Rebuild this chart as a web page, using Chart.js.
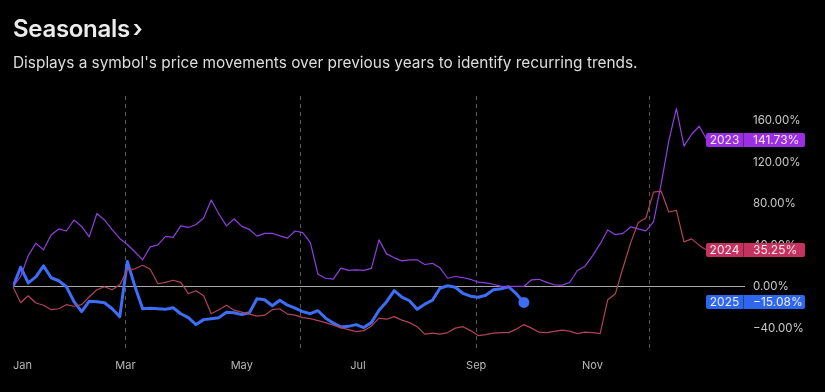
<!DOCTYPE html>
<html>
<head>
<meta charset="utf-8">
<script src="https://cdn.jsdelivr.net/npm/chart.js@4.4.0/dist/chart.umd.min.js"></script>
<style>
  html, body { margin: 0; padding: 0; background: #000; }
  body { width: 825px; height: 392px; position: relative; overflow: hidden; font-family: Inter, "Noto Sans", sans-serif; }
  #title { position: absolute; left: 13px; top: 14px; color: #ececec; font-size: 24px; font-weight: 600; letter-spacing: -0.3px; }
  #title span { font-weight: 600; margin-left: 3px; }
  #subtitle { position: absolute; left: 13px; top: 53px; color: #dedede; font-size: 15.4px; }
  #wrap { position: absolute; left: 0; top: 0; width: 825px; height: 392px; }
</style>
</head>
<body>
<div id="wrap"><canvas id="chart-canvas" width="825" height="392"></canvas></div>
<div id="title">Seasonals<span>›</span></div>
<div id="subtitle">Displays a symbol's price movements over previous years to identify recurring trends.</div>
<script>
// one sample every 4 days, day 0 = Jan 1
const STEP_DAYS = 4;

// last tick is an empty one at the axis end so 'inner' alignment only moves Jan
const monthLabels = ['Jan', 'Mar', 'May', 'Jul', 'Sep', 'Nov', ''];
const monthTickDays = [0, 59, 120, 181, 243, 304, 384];
const quarterLineDays = [59, 151, 243, 334];
const yTicks = [-40, 0, 40, 80, 120, 160];

const years = ['2023', '2024', '2025'];

const y2023 = [0, 9.9, 30.0, 42.0, 35.6, 50.0, 55.8, 53.8, 64.4, 58.2, 48.1, 70.7, 64.4, 55.2, 46.6, 40.8,
  33.5, 26.0, 38.5, 40.4, 48.6, 47.6, 58.7, 57.2, 60.1, 66.3, 83.7, 70.2, 58.7, 65.4, 58.2, 55.3,
  48.8, 51.5, 51.6, 49.1, 46.9, 53.8, 52.3, 42.6, 12.0, 8.2, 7.3, 17.9, 15.8, 16.3, 15.8, 17.8,
  45.2, 31.7, 27.9, 25.0, 26.0, 26.0, 21.5, 22.6, 18.3, 8.2, 9.9, 8.9, 7.2, 4.4, 3.8, 2.4,
  0.3, 0.3, 0.3, 0.3, 6.7, 7.2, 4.2, 1.9, 1.6, 4.1, 15.4, 19.7, 29.8, 41.3, 54.8, 50.2,
  51.5, 57.7, 55.9, 53.9, 62.5, 99.0, 140.4, 171.8, 135.6, 147.1, 154.8, 141.73];

const y2024 = [0, -15.4, -8.7, -15.7, -17.8, -22.1, -21.2, -17.3, -18.8, -17.3, -9.6, -2.9, 0, -2.9, 1.9, 16.3,
  17.3, 20.7, 16.8, 2.9, 4.3, 6.3, 4.3, -6.7, -3.8, -8.7, -26.0, -22.1, -17.8, -22.6, -24.5, -26.4,
  -28.4, -27.4, -22.1, -21.2, -26.4, -27.4, -29.8, -30.8, -32.7, -34.6, -37.0, -39.4, -41.3, -43.3, -42.3, -38.0,
  -30.3, -31.3, -28.8, -32.2, -34.6, -38.5, -45.7, -44.7, -45.7, -44.2, -39.9, -38.5, -42.3, -47.1, -46.2, -44.7,
  -44.2, -44.2, -40.9, -36.5, -39.9, -43.8, -44.2, -43.0, -41.8, -42.8, -45.2, -43.8, -44.2, -45.2, -12.5, -6.7,
  18.3, 42.3, 62.0, 66.3, 91.3, 92.3, 72.1, 73.6, 43.3, 46.2, 39.9, 35.25];

const y2025 = [0, 18.8, 3.8, 9.6, 20.2, 8.7, 5.8, 0, -14.4, -24.0, -13.9, -14.4, -15.4, -21.2, -28.8, 24.3,
  0, -21.2, -20.7, -21.2, -21.6, -20.2, -26.0, -29.8, -36.5, -31.7, -30.8, -29.8, -24.5, -25.0, -26.9, -25.0,
  -11.5, -12.5, -18.3, -13.0, -17.8, -20.7, -24.0, -26.0, -23.1, -30.3, -34.9, -38.9, -38.2, -36.5, -39.4, -34.6,
  -22.6, -14.4, -3.8, -10.1, -13.5, -21.6, -16.8, -13.0, -1.4, 1.0, -0.5, -6.3, -9.1, -10.1, -8.2, -2.9,
  -1.9, 0, -6.7, -15.08];

const lineColors = ['#8f3fe0', '#b0435c', '#3d6ef5'];
const badgeColors = ['#9a2ee3', '#c4325f', '#2f66ee'];
const badgeText = ['#f4e8ff', '#ffe8ee', '#e8eeff'];

const toPoints = values => values.map((v, i) => ({ x: i * STEP_DAYS, y: v }));

const fmtPct = v => (v < 0 ? '\u2212' : '') + Math.abs(v).toFixed(2) + '%';

const badges = {
	id: 'badges',
	afterDraw(chart) {
		const { ctx } = chart;
		const yScale = chart.scales.y;
		chart.data.datasets.forEach(ds => {
			const last = ds.data[ds.data.length - 1].y;
			const yc = Math.round(yScale.getPixelForValue(last));
			const h = 14;
			ctx.save();
			ctx.fillStyle = ds.badgeColor;
			ctx.beginPath();
			ctx.roundRect(706, yc - h / 2, 99, h, 2);
			ctx.fill();
			ctx.fillStyle = 'rgba(0,0,0,0.35)';
			ctx.fillRect(743, yc - h / 2, 1, h);
			ctx.fillStyle = ds.badgeText;
			ctx.font = '12px Inter, "Noto Sans", sans-serif';
			ctx.textBaseline = 'middle';
			ctx.textAlign = 'center';
			ctx.fillText(ds.label, 724.5, yc + 0.5);
			ctx.textAlign = 'left';
			ctx.fillText(fmtPct(last), 753, yc + 0.5);
			ctx.restore();
		});
	}
};

const datasets = [y2024, y2023, y2025].map((vals, j) => {
	const i = [1, 0, 2][j];
	const isCurrent = i === 2;
	return {
		label: years[i],
		data: toPoints(vals),
		borderColor: lineColors[i],
		backgroundColor: lineColors[i],
		badgeColor: badgeColors[i],
		badgeText: badgeText[i],
		borderWidth: isCurrent ? 3 : 1.2,
		tension: 0,
		pointRadius: ctx => (isCurrent && ctx.dataIndex === vals.length - 1 ? 4 : 0),
		pointHoverRadius: 0,
		borderJoinStyle: 'round'
	};
});

const ctx = document.querySelector('#chart-canvas').getContext('2d');
new Chart(ctx, {
	type: 'line',
	data: { datasets },
	plugins: [badges],
	options: {
		responsive: false,
		animation: false,
		events: [],
		layout: { padding: { left: 13, top: 96, right: 0, bottom: 0 } },
		plugins: { legend: { display: false }, tooltip: { enabled: false } },
		scales: {
			x: {
				type: 'linear',
				min: 0,
				max: 384,
				afterBuildTicks: scale => { scale.ticks = monthTickDays.map(v => ({ value: v })); },
				afterFit: scale => { scale.height = 42; scale.paddingLeft = 0; scale.paddingRight = 0; },
				ticks: {
					color: '#b8b8b8',
					font: { size: 11, family: 'Inter, "Noto Sans", sans-serif' },
					padding: 9,
					align: 'inner',
					maxRotation: 0,
					autoSkip: false,
					callback: (v, idx) => monthLabels[idx]
				},
				grid: { display: false, drawTicks: false },
				border: { display: false }
			},
			x2: {
				type: 'linear',
				position: 'bottom',
				min: 0,
				max: 384,
				afterBuildTicks: scale => { scale.ticks = quarterLineDays.map(v => ({ value: v })); },
				afterFit: scale => { scale.height = 0; },
				ticks: { display: false },
				grid: { color: '#5a5a5a', lineWidth: 1, drawTicks: false },
				border: { display: false, dash: [4, 4] }
			},
			y: {
				position: 'right',
				min: -61,
				max: 184,
				afterBuildTicks: scale => { scale.ticks = yTicks.map(v => ({ value: v })); },
				afterFit: scale => { scale.width = 80; },
				ticks: {
					color: '#c9c9c9',
					font: { size: 11.5, family: 'Inter, "Noto Sans", sans-serif' },
					padding: 8,
					callback: v => fmtPct(v)
				},
				grid: {
					drawTicks: false,
					lineWidth: 1,
					color: c => (c.tick && c.tick.value === 0 ? '#a8a8a8' : 'rgba(0,0,0,0)')
				},
				border: { display: false }
			}
		}
	}
});
</script>
</body>
</html>
